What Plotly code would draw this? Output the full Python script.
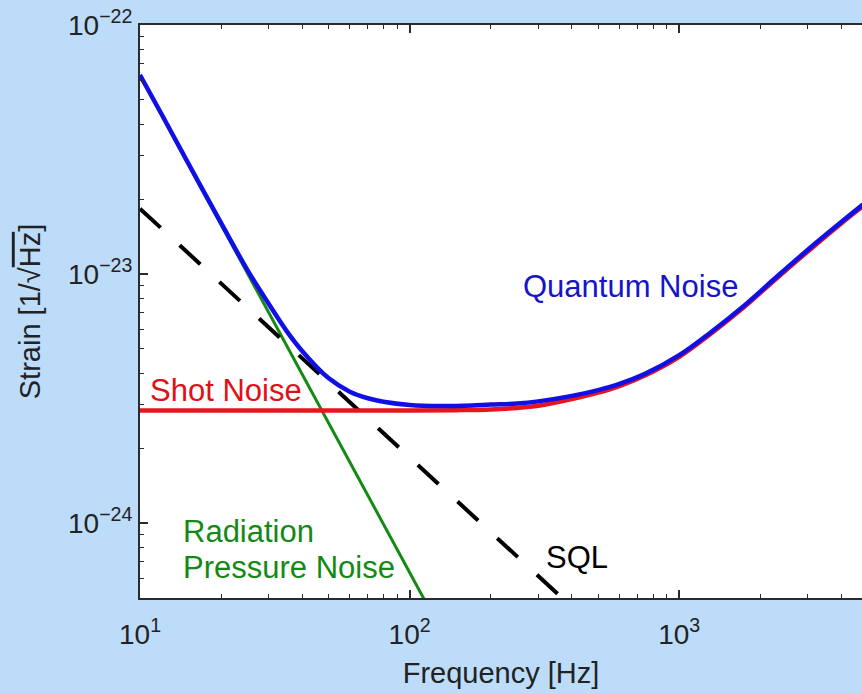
import plotly.graph_objects as go

# ---- data ----
freq_qn = [10, 12, 15, 20, 25, 30, 35, 40, 50, 60, 70, 80, 100, 130, 160, 200, 250,
           300, 400, 500, 600, 750, 1000, 1300, 1750, 2300, 3100, 4000, 4800]
quantum_noise = [6.3e-23, 4.4e-23, 2.82e-23, 1.6e-23, 1.04e-23, 7.6e-24, 5.9e-24,
                 4.9e-24, 3.82e-24, 3.37e-24, 3.17e-24, 3.07e-24, 2.98e-24, 2.95e-24,
                 2.96e-24, 2.99e-24, 3.02e-24, 3.08e-24, 3.24e-24, 3.42e-24, 3.62e-24,
                 3.98e-24, 4.72e-24, 5.8e-24, 7.5e-24, 9.75e-24, 1.29e-23, 1.62e-23,
                 1.9e-23]

freq_shot = [10, 50, 100, 150, 200, 250, 300, 400, 500, 600, 750, 1000, 1300, 1750,
             2300, 3100, 4000, 4800]
shot_noise = [2.83e-24, 2.83e-24, 2.83e-24, 2.84e-24, 2.86e-24, 2.9e-24, 2.96e-24,
              3.15e-24, 3.34e-24, 3.55e-24, 3.92e-24, 4.65e-24, 5.72e-24, 7.4e-24,
              9.62e-24, 1.27e-23, 1.6e-23, 1.87e-23]

freq_rad = [10, 120]
radiation_pressure = [6.3e-23, 4.4e-25]

freq_sql = [10, 400]
sql = [1.83e-23, 4.6e-25]

x_tickvals = [10, 100, 1000]
x_ticktext = ["10<sup>1</sup>", "10<sup>2</sup>", "10<sup>3</sup>"]
y_tickvals = [1e-24, 1e-23, 1e-22]
y_ticktext = ["10<sup>\u221224</sup>", "10<sup>\u221223</sup>", "10<sup>\u221222</sup>"]

FONT = "Liberation Sans, Arial, Helvetica, sans-serif"
BG = "#bddcfa"
AX = "#2b2b2b"

x_minor = [m * d for d in (10, 100, 1000) for m in range(2, 10)]
y_minor = [m * d for d in (1e-25, 1e-24, 1e-23) for m in range(2, 10)]

fig = go.Figure()
fig.add_trace(go.Scatter(x=freq_rad, y=radiation_pressure, mode="lines",
                         line=dict(color="#138a13", width=3), name="Radiation Pressure Noise"))
fig.add_trace(go.Scatter(x=freq_sql, y=sql, mode="lines",
                         line=dict(color="black", width=4, dash="28px,26px"), name="SQL"))
fig.add_trace(go.Scatter(x=freq_shot, y=shot_noise, mode="lines",
                         line=dict(color="#e8141e", width=4.5, shape="spline", smoothing=1.0),
                         name="Shot Noise"))
fig.add_trace(go.Scatter(x=freq_qn, y=quantum_noise, mode="lines",
                         line=dict(color="#1010e6", width=4.5, shape="spline", smoothing=1.0),
                         name="Quantum Noise"))

def label(text, x, y, color, xanchor="left"):
    fig.add_annotation(x=x, y=y, xref="x", yref="y", text=text, showarrow=False,
                       xanchor=xanchor, yanchor="middle",
                       font=dict(family=FONT, size=31, color=color))

label("Quantum Noise", 2.818, -23.05, "#1414c8", xanchor="center")
label("Shot Noise", 1.030, -23.468, "#e01018")
label("Radiation", 1.152, -24.035, "#138a13")
label("Pressure Noise", 1.152, -24.180, "#138a13")
label("SQL", 2.500, -24.140, "black")

fig.update_layout(
    width=862, height=693,
    paper_bgcolor=BG, plot_bgcolor="white",
    margin=dict(l=140, r=0, t=25, b=95),
    showlegend=False,
    font=dict(family=FONT, color="#222222"),
    xaxis=dict(
        type="log", range=[1, 3.678],
        tickvals=x_tickvals, ticktext=x_ticktext,
        tickfont=dict(size=28, family=FONT, color="#222222"),
        ticks="inside", ticklen=8, tickwidth=1.5, tickcolor=AX,
        ticklabelstandoff=10,
        showline=True, linecolor=AX, linewidth=2, mirror="allticks",
        showgrid=False, zeroline=False,
        minor=dict(tickvals=x_minor, ticks="inside", ticklen=4, tickwidth=1,
                   tickcolor=AX, showgrid=False),
        title=dict(text="Frequency [Hz]", font=dict(size=29, family=FONT, color="#222222"),
                   standoff=14),
    ),
    yaxis=dict(
        type="log", range=[-24.301, -22],
        tickvals=y_tickvals, ticktext=y_ticktext,
        tickfont=dict(size=28, family=FONT, color="#222222"),
        ticks="inside", ticklen=8, tickwidth=1.5, tickcolor=AX,
        showline=True, linecolor=AX, linewidth=2, mirror=False,
        showgrid=False, zeroline=False,
        minor=dict(tickvals=y_minor, ticks="inside", ticklen=4, tickwidth=1,
                   tickcolor=AX, showgrid=False),
        title=dict(text="Strain [1/\u221a<span style='text-decoration:overline'>Hz</span>]",
                   font=dict(size=29, family=FONT, color="#222222"), standoff=19),
    ),
)

fig.write_html(
    "out.html",
    config={"displayModeBar": False},
    post_script="document.body.style.margin='0';document.body.style.overflow='hidden';"
                "document.body.style.background='" + BG + "';",
)
